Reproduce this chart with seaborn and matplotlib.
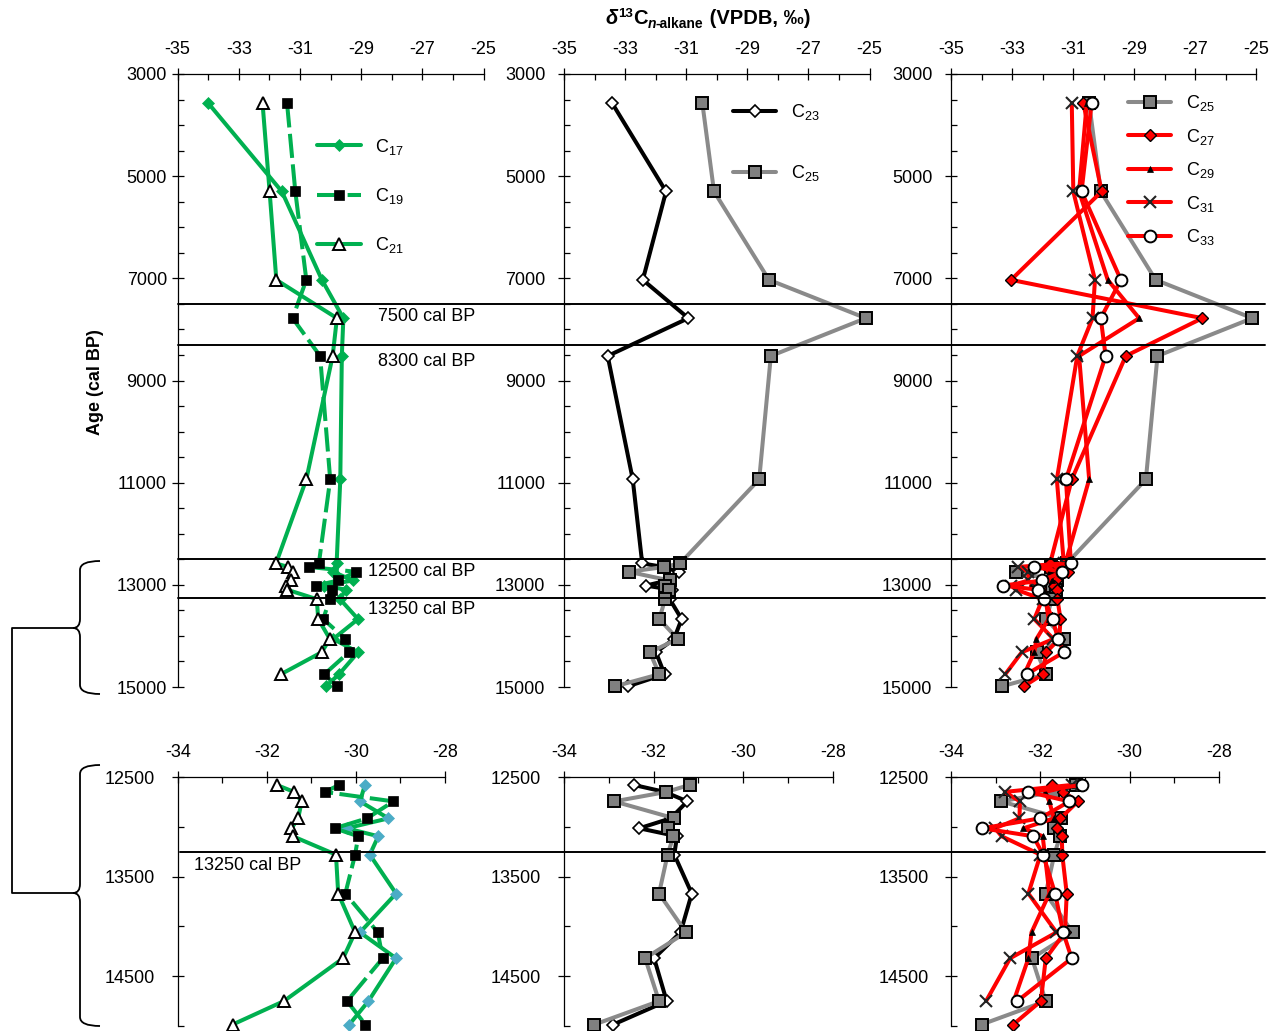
import numpy as np
import pandas as pd
import matplotlib
matplotlib.use("Agg")
import matplotlib.pyplot as plt
import seaborn as sns
from matplotlib.ticker import FixedLocator, FuncFormatter
from matplotlib.lines import Line2D
from matplotlib.path import Path
from matplotlib.patches import PathPatch
from matplotlib.transforms import IdentityTransform

sns.set_style("ticks")
plt.rcParams["font.family"] = ["Liberation Sans", "DejaVu Sans"]
plt.rcParams["text.color"] = "black"
plt.rcParams["mathtext.fontset"] = "custom"
plt.rcParams["mathtext.rm"] = "Liberation Sans"
plt.rcParams["mathtext.it"] = "Liberation Sans:italic"
plt.rcParams["mathtext.bf"] = "Liberation Sans:bold"
plt.rcParams["mathtext.default"] = "regular"

nan = np.nan

# Sample ages (cal BP)
ages = [3575, 5300, 7030, 7780, 8520, 10935, 12580, 12650, 12745, 12915,
        13015, 13095, 13280, 13670, 14060, 14320, 14750, 14985]

# delta13C of individual n-alkanes (VPDB, permil)
c17 = [-33.99, -31.59, -30.28, -29.58, -29.63, -29.68, -29.80, nan, -29.91, -29.27,
       -30.21, -29.50, -29.69, -29.10, -29.91, -29.10, -29.72, -30.15]
c19 = [-31.42, -31.15, -30.79, -31.24, -30.34, -30.01, -30.38, -30.70, -29.16, -29.75,
       -30.48, -29.95, -30.02, -30.24, -29.51, -29.40, -30.20, -29.79]
c21 = [-32.22, -31.99, -31.77, -29.79, -29.93, -30.79, -31.78, -31.39, -31.22, -31.30,
       -31.45, -31.42, -30.45, -30.40, -30.02, -30.29, -31.62, -32.77]
c23 = [-33.42, -31.66, -32.42, -30.93, -33.57, -32.75, -32.44, -31.75, -31.25, -31.62,
       -32.32, -31.48, -31.54, -31.15, -31.40, -31.99, -31.71, -32.90]
c25 = [-30.47, -30.09, -28.29, -25.12, -28.23, -28.61, -31.20, -31.72, -32.88, -31.54,
       -31.69, -31.56, -31.69, -31.88, -31.28, -32.19, -31.88, -33.32]
c27 = [-30.66, -30.06, -33.03, -26.76, -29.27, -31.04, -31.75, -31.49, -31.16, -31.55,
       -31.62, -31.52, -31.51, -31.41, -31.45, -31.88, -31.99, -32.61]
c29 = [-30.55, -30.80, -29.86, -28.83, -30.80, -30.47, -31.25, -31.90, -31.80, -31.70,
       -32.38, -31.95, -31.90, -31.80, -32.20, -32.27, -32.60, nan]
c31 = [-31.04, -30.99, -30.28, -30.36, -30.86, -31.53, -31.30, -32.80, -32.46, -32.47,
       -33.02, -32.87, -32.00, -32.27, -31.64, -32.68, -33.22, nan]
c33 = [-30.39, -30.72, -29.43, -30.09, -29.93, -31.23, -31.07, -32.27, -31.35, -32.01,
       -33.30, -32.16, -31.94, -31.67, -31.49, -31.30, -32.52, nan]

# C21 in the long record ends at the 14750 sample
c21_long_last_age = 14750

# Axis ticks
long_x_major = [-35, -33, -31, -29, -27, -25]
long_x_minor = [-34, -32, -30, -28, -26]
long_y_major = [3000, 5000, 7000, 9000, 11000, 13000, 15000]
long_y_minor = [3500, 4000, 4500, 5500, 6000, 6500, 7500, 8000, 8500, 9500, 10000,
                10500, 11500, 12000, 12500, 13500, 14000, 14500]
short_x_major = [-34, -32, -30, -28]
short_x_minor = [-33, -31, -29]
short_y_major = [12500, 13500, 14500]
short_y_minor = [13000, 14000, 15000]

# Event boundaries
events_long = [7500, 8300, 12500, 13250]
event_text_long = ["7500 cal BP", "8300 cal BP", "12500 cal BP", "13250 cal BP"]
event_text_pos_long = [(-28.45, 7740), (-28.45, 8620), (-28.77, 12730), (-28.77, 13490)]
events_short = [13250]
event_text_short = ["13250 cal BP"]
event_text_pos_short = [(-33.65, 13385)]

GREEN = "#00B050"
RED = "#FF0000"
GREY = "#8A8A8A"
BLUE = "#4BACC6"

W, H = 1276, 1031
fig = plt.figure(figsize=(W / 100, H / 100), dpi=100)


def px_axes(x0, x1, ytop, ybot):
    return fig.add_axes([x0 / W, 1 - ybot / H, (x1 - x0) / W, (ybot - ytop) / H])


ax1 = px_axes(177.5, 483.5, 74, 687)
ax2 = px_axes(564, 869.5, 74, 687)
ax3 = px_axes(951, 1256, 74, 687)
ax4 = px_axes(178, 445, 777, 1026)
ax5 = px_axes(564, 833, 777, 1026)
ax6 = px_axes(951.3, 1218.7, 777, 1026)

df = pd.DataFrame({"age": ages, "C17": c17, "C19": c19, "C21": c21, "C23": c23,
                   "C25": c25, "C27": c27, "C29": c29, "C31": c31, "C33": c33})

styles = {
    "C17": dict(color=GREEN, marker="D", markersize=6, markerfacecolor=GREEN,
                markeredgecolor=GREEN, markeredgewidth=0.5),
    "C19": dict(color=GREEN, marker="s", markersize=6.5, markerfacecolor="black",
                markeredgecolor="black", markeredgewidth=0.5, linestyle=(0, (6, 1.6))),
    "C21": dict(color=GREEN, marker="^", markersize=8.5, markerfacecolor="white",
                markeredgecolor="black", markeredgewidth=1.4),
    "C23": dict(color="black", marker="D", markersize=6.5, markerfacecolor="white",
                markeredgecolor="black", markeredgewidth=1.2),
    "C25": dict(color=GREY, marker="s", markersize=8.5, markerfacecolor="#808080",
                markeredgecolor="black", markeredgewidth=1.4),
    "C27": dict(color=RED, marker="D", markersize=6.5, markerfacecolor=RED,
                markeredgecolor="black", markeredgewidth=1.0),
    "C29": dict(color=RED, marker="^", markersize=5, markerfacecolor="black",
                markeredgecolor="black", markeredgewidth=0.5),
    "C31": dict(color=RED, marker="x", markersize=9, markerfacecolor="black",
                markeredgecolor="#222222", markeredgewidth=1.5),
    "C33": dict(color=RED, marker="o", markersize=8.5, markerfacecolor="white",
                markeredgecolor="black", markeredgewidth=1.4),
}


def draw(ax, name, data, **over):
    sub = data[["age", name]].dropna()
    kw = dict(styles[name])
    kw.update(over)
    sns.lineplot(x=sub[name].to_numpy(), y=sub["age"].to_numpy(), ax=ax, orient="y",
                 sort=False, estimator=None, linewidth=2.9, label="C$_{%s}$" % name[1:],
                 legend=False, clip_on=False, **kw)


long_df = df
short_df = df[df["age"] >= 12500]
c21_long = df[df["age"] <= c21_long_last_age]

draw(ax1, "C17", long_df)
draw(ax1, "C19", long_df)
draw(ax1, "C21", c21_long)
draw(ax2, "C23", long_df)
draw(ax2, "C25", long_df)
for n in ["C25", "C27", "C29", "C31", "C33"]:
    draw(ax3, n, long_df)

draw(ax4, "C17", short_df, markerfacecolor=BLUE, markeredgecolor=BLUE, markersize=6.5)
draw(ax4, "C19", short_df)
draw(ax4, "C21", short_df)
draw(ax5, "C23", short_df)
draw(ax5, "C25", short_df)
for n in ["C25", "C27", "C29", "C31", "C33"]:
    draw(ax6, n, short_df)


def style_axes(ax, xlim, ylim, xmaj, xmin, ymaj, ymin, ypad):
    ax.set_xlim(*xlim)
    ax.set_ylim(*ylim)
    ax.set_xlabel("")
    ax.set_ylabel("")
    ax.xaxis.tick_top()
    ax.xaxis.set_major_locator(FixedLocator(xmaj))
    ax.xaxis.set_minor_locator(FixedLocator(xmin))
    ax.yaxis.set_major_locator(FixedLocator(ymaj))
    ax.yaxis.set_minor_locator(FixedLocator(ymin))
    for s in ["right", "bottom"]:
        ax.spines[s].set_visible(False)
    for s in ["top", "left"]:
        ax.spines[s].set_color("black")
        ax.spines[s].set_linewidth(0.9)
    ax.tick_params(which="major", direction="inout", length=9, width=0.9,
                   color="black", labelsize=13, labelcolor="black")
    ax.tick_params(which="minor", direction="in", length=4.5, width=0.9, color="black")
    ax.tick_params(axis="x", which="both", top=True, bottom=False, labeltop=True,
                   labelbottom=False, pad=7)
    ax.tick_params(axis="y", which="both", left=True, right=False, pad=ypad)
    ax.xaxis.set_major_formatter(FuncFormatter(lambda v, p: "%d" % v))
    ax.yaxis.set_major_formatter(FuncFormatter(lambda v, p: "%d" % v))
    ax.set_facecolor("none")
    ax.grid(False)


style_axes(ax1, (-35, -25), (15000, 3000), long_x_major, long_x_minor,
           long_y_major, long_y_minor, 3)
style_axes(ax2, (-35, -25), (15000, 3000), long_x_major, long_x_minor,
           long_y_major, long_y_minor, 9)
style_axes(ax3, (-35, -25), (15000, 3000), long_x_major, long_x_minor,
           long_y_major, long_y_minor, 9)
for ax in (ax4, ax5, ax6):
    style_axes(ax, (-34, -28), (15000, 12500), short_x_major, short_x_minor,
               short_y_major, short_y_minor, 12)

# Legends
leg_specs = [(ax1, (0.428, 0.801), 1.63), (ax2, (0.524, 0.888), 2.27),
             (ax3, (0.551, 0.843), 0.75)]
for ax, anchor, spacing in leg_specs:
    leg = ax.legend(loc="center left", bbox_to_anchor=anchor, frameon=False, fontsize=13,
                    borderpad=0, handlelength=2.4, handletextpad=0.8, labelspacing=spacing)
    for t in leg.get_texts():
        t.set_color("black")


# Event boundary lines spanning the panels
def hline(ax, age, x_left_px, x_right_px=1265):
    y_disp = ax.transData.transform((ax.get_xlim()[0], age))[1]
    y = y_disp / fig.bbox.height
    fig.add_artist(Line2D([x_left_px / W, x_right_px / W], [y, y], color="black",
                          linewidth=1.4, transform=fig.transFigure, zorder=5))


for a in events_long:
    hline(ax1, a, 177.5)
for a in events_short:
    hline(ax4, a, 180)

for (x, y), s in zip(event_text_pos_long, event_text_long):
    ax1.text(x, y, s, fontsize=13, va="center", ha="left", color="black")
for (x, y), s in zip(event_text_pos_short, event_text_short):
    ax4.text(x, y, s, fontsize=13, va="center", ha="left", color="black")

# Axis titles
fig.text(95 / W, 1 - 382 / H, "Age (cal BP)", rotation=90, fontsize=13,
         fontweight="bold", ha="center", va="center")

renderer = fig.canvas.get_renderer()
pieces = [("δ", 14.5, "italic", 0), ("13", 9.5, "normal", 7), ("C", 14.5, "normal", 0),
          ("n", 10, "italic", -4), ("-alkane", 10, "normal", -4),
          (" (VPDB, ‰)", 14.5, "normal", 0)]
texts = []
total = 0
for s, size, st, dy in pieces:
    t = fig.text(0, 0, s, fontsize=size, fontstyle=st, fontweight="bold",
                 transform=IdentityTransform(), va="baseline", ha="left")
    w = t.get_window_extent(renderer).width
    texts.append((t, w, dy))
    total += w
x = 708 - total / 2
base = H - 24
for t, w, dy in texts:
    t.set_position((x, base + dy))
    x += w


# Brackets linking the late-glacial section to the expanded panels
def brace_path(x, y_top, y_mid, y_bot, hook=20, r=9, tip=7):
    def P(px, py):
        return (px / W, 1 - py / H)
    verts = [P(x + hook, y_top), P(x, y_top), P(x, y_top + r),
             P(x, y_mid - r), P(x, y_mid), P(x - tip, y_mid),
             P(x, y_mid), P(x, y_mid + r),
             P(x, y_bot - r), P(x, y_bot), P(x + hook, y_bot)]
    codes = [Path.MOVETO, Path.CURVE3, Path.CURVE3,
             Path.LINETO, Path.CURVE3, Path.CURVE3,
             Path.CURVE3, Path.CURVE3,
             Path.LINETO, Path.CURVE3, Path.CURVE3]
    return Path(verts, codes)


for yt, ym, yb in [(561, 628, 694), (765, 893, 1026)]:
    fig.add_artist(PathPatch(brace_path(80, yt, ym, yb), facecolor="none",
                             edgecolor="black", linewidth=1.3, transform=fig.transFigure))
fig.add_artist(Line2D([73 / W, 12 / W, 12 / W, 73 / W],
                      [1 - 628 / H, 1 - 628 / H, 1 - 893 / H, 1 - 893 / H],
                      color="black", linewidth=1.3, transform=fig.transFigure))

fig.savefig("out.png", dpi=100, facecolor="white")
